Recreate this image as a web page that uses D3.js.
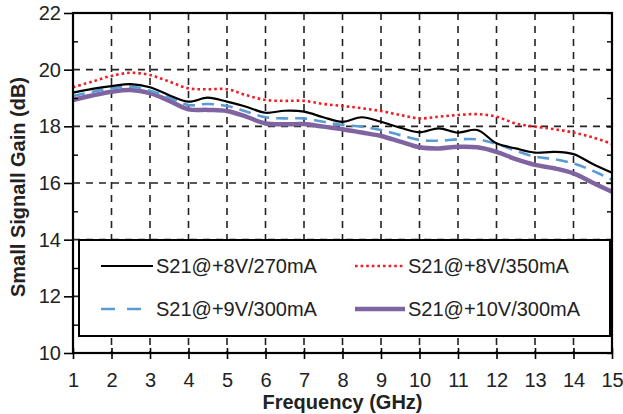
<!DOCTYPE html>
<html><head><meta charset="utf-8">
<script src="https://cdn.jsdelivr.net/npm/d3@7/dist/d3.min.js"></script>
<style>
html,body{margin:0;padding:0;background:#fff;}
text{font-family:"Liberation Sans",Arial,sans-serif;}
</style></head>
<body><svg id="c" width="623" height="414"></svg>
<script>
const freq = [1,1.5,2,2.5,3,3.5,4,4.5,5,5.5,6,6.5,7,7.5,8,8.5,9,9.5,10,10.5,11,11.5,12,12.5,13,13.5,14,14.5,15];
const s21_8V_270 = [19.19,19.32,19.42,19.49,19.38,19.10,18.87,19.01,18.87,18.69,18.48,18.55,18.52,18.32,18.16,18.32,18.16,17.95,17.79,17.93,17.78,17.87,17.40,17.22,17.07,17.10,17.02,16.67,16.36];
const s21_8V_350 = [19.38,19.58,19.78,19.89,19.81,19.58,19.34,19.31,19.31,19.10,18.93,18.90,18.90,18.79,18.72,18.64,18.54,18.40,18.28,18.34,18.40,18.43,18.34,18.10,17.99,17.90,17.78,17.61,17.38];
const s21_9V_300 = [19.07,19.22,19.34,19.40,19.26,19.02,18.75,18.79,18.72,18.52,18.32,18.28,18.28,18.16,18.05,17.99,17.87,17.69,17.52,17.49,17.54,17.54,17.38,17.14,16.93,16.84,16.69,16.43,16.11];
const s21_10V_300 = [18.93,19.09,19.22,19.28,19.17,18.90,18.60,18.58,18.54,18.34,18.10,18.07,18.08,17.99,17.90,17.78,17.66,17.46,17.26,17.22,17.28,17.26,17.10,16.84,16.64,16.52,16.34,16.01,15.69];
const seriesNames = ["S21@+8V/270mA","S21@+8V/350mA","S21@+9V/300mA","S21@+10V/300mA"];
const xTicks = [1,2,3,4,5,6,7,8,9,10,11,12,13,14,15];
const yTicks = [10,12,14,16,18,20,22];
const yMinor = [11,13,15,17,19,21];

const svg = d3.select("#c");
const L=73,R=612,T=13,B=353;
const x = d3.scaleLinear().domain([1,15]).range([L,R]);
const y = d3.scaleLinear().domain([10,22]).range([B,T]);

// gridlines
const grid = svg.append("g").attr("stroke","#222").attr("stroke-width",1.6).attr("stroke-dasharray","7,6");
grid.selectAll(".v").data(xTicks.slice(1,-1)).join("line")
  .attr("x1",d=>x(d)).attr("x2",d=>x(d)).attr("y1",T).attr("y2",B);
grid.selectAll(".h").data(yTicks.slice(1,-1)).join("line")
  .attr("y1",d=>y(d)).attr("y2",d=>y(d)).attr("x1",L).attr("x2",R);

// lines
const styles = [
  {data:s21_10V_300, color:"#8064a2", w:4.5, dash:null},
  {data:s21_9V_300, color:"#5b9bd5", w:2.6, dash:"12,7"},
  {data:s21_8V_270, color:"#000", w:2.2, dash:null},
  {data:s21_8V_350, color:"#f01c24", w:2.6, dash:"2.6,3"}
];
const line = d3.line().x((d,i)=>x(freq[i])).y(d=>y(d)).curve(d3.curveCatmullRom);
styles.forEach(s=>{
  svg.append("path").attr("d",line(s.data)).attr("fill","none")
    .attr("stroke",s.color).attr("stroke-width",s.w)
    .attr("stroke-dasharray",s.dash).attr("stroke-linejoin","round");
});

// frame
svg.append("rect").attr("x",L).attr("y",T).attr("width",R-L).attr("height",B-T)
  .attr("fill","none").attr("stroke","#000").attr("stroke-width",2.2);

// axes
const yAxis = d3.axisLeft(y).tickValues(yTicks).tickSize(9).tickPadding(3).tickFormat(d3.format("d"));
const gy = svg.append("g").attr("transform",`translate(${L},0)`).call(yAxis);
gy.select(".domain").remove();
gy.selectAll("line").attr("stroke","#000").attr("stroke-width",1.6);
gy.selectAll("text").attr("font-size",20).attr("fill","#222");
const yMinAxis = d3.axisRight(y).tickValues(yMinor).tickSize(5).tickFormat("");
const gym = svg.append("g").attr("transform",`translate(${L},0)`).call(yMinAxis);
gym.select(".domain").remove();
gym.selectAll("line").attr("stroke","#000").attr("stroke-width",1.4);
const yRight = d3.axisLeft(y).tickValues(yTicks.concat(yMinor)).tickSize(5).tickFormat("");
const gyr = svg.append("g").attr("transform",`translate(${R},0)`).call(yRight);
gyr.select(".domain").remove();
gyr.selectAll("line").attr("stroke","#000").attr("stroke-width",1.4);

const xAxis = d3.axisBottom(x).tickValues(xTicks).tickSize(6).tickPadding(14).tickFormat(d3.format("d"));
const gx = svg.append("g").attr("transform",`translate(0,${B})`).call(xAxis);
gx.select(".domain").remove();
gx.selectAll("line").attr("stroke","#000").attr("stroke-width",1.6).attr("y1",-5);
gx.selectAll("text").attr("font-size",20).attr("fill","#222");

// titles
svg.append("text").attr("x",(L+R)/2).attr("y",409).attr("text-anchor","middle")
  .attr("font-size",20).attr("font-weight","bold").attr("fill","#222").text("Frequency (GHz)");
svg.append("text").attr("transform",`translate(25,187) rotate(-90)`).attr("text-anchor","middle")
  .attr("font-size",20).attr("font-weight","bold").attr("fill","#222").text("Small Signall Gain (dB)");

// legend
const lg = svg.append("g");
lg.append("rect").attr("x",79).attr("y",240).attr("width",531).attr("height",96)
  .attr("fill","#fff").attr("stroke","#000").attr("stroke-width",2);
const legItems = [
  {name:seriesNames[0], s:styles[2], col:0, row:0},
  {name:seriesNames[1], s:styles[3], col:1, row:0},
  {name:seriesNames[2], s:Object.assign({},styles[1],{dash:"14,12"}), col:0, row:1},
  {name:seriesNames[3], s:styles[0], col:1, row:1}
];
const colX = [[101,153,156],[355,405,408]];
const rowY = [266,309];
legItems.forEach(it=>{
  const c = colX[it.col], yy = rowY[it.row];
  lg.append("line").attr("x1",c[0]).attr("x2",c[1]).attr("y1",yy).attr("y2",yy)
    .attr("stroke",it.s.color).attr("stroke-width",it.s.w).attr("stroke-dasharray",it.s.dash);
  lg.append("text").attr("x",c[2]).attr("y",yy).attr("dy","0.35em").attr("font-size",20)
    .attr("fill","#222").text(it.name);
});
</script></body></html>
